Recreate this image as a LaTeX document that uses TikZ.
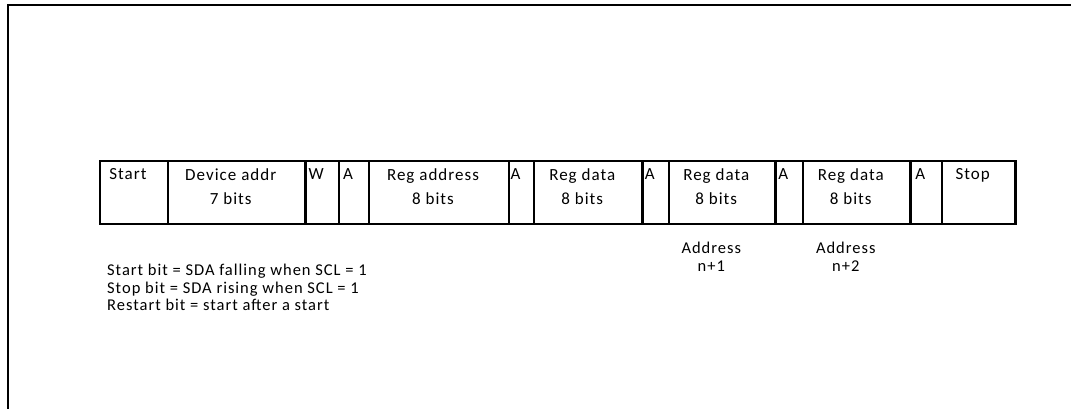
\documentclass[tikz,border=0pt]{standalone}
\usepackage{fontspec}
\setmainfont[LetterSpace=6]{Carlito}
\usetikzlibrary{positioning}
\tikzstyle{frame} = [draw=black, line width=2pt]
\tikzstyle{cell} = [rectangle, draw=black, line width=2.2pt, minimum height=63pt, outer sep=0pt, inner sep=0pt]
\tikzstyle{txt} = [anchor=north, xshift=-6pt, yshift=-7.5pt, inner sep=0pt, align=center, font=\fontsize{17}{24}\selectfont]
\tikzstyle{note} = [inner sep=0pt, font=\fontsize{16.5}{17.5}\selectfont]

\begin{document}
\begin{tikzpicture}[x=1pt, y=-1pt]
\useasboundingbox (0,0) rectangle (1071,409);

% page frame, cut at right and bottom
\draw [frame] (1071,5.5) -- (7.5,5.5) -- (7.5,409);

% frame cells
\node at (100,161) (start) [cell, anchor=north west, minimum width=68pt] {};
\node (devaddr) [cell, right=0pt of start, minimum width=137.5pt] {};
\node (wbit) [cell, right=0pt of devaddr, minimum width=33.5pt] {};
\node (ack1) [cell, right=0pt of wbit, minimum width=30pt] {};
\node (regaddr) [cell, right=0pt of ack1, minimum width=140pt] {};
\node (ack2) [cell, right=0pt of regaddr, minimum width=25pt] {};
\node (data1) [cell, right=0pt of ack2, minimum width=108.5pt] {};
\node (ack3) [cell, right=0pt of data1, minimum width=26.5pt] {};
\node (data2) [cell, right=0pt of ack3, minimum width=106.5pt] {};
\node (ack4) [cell, right=0pt of data2, minimum width=27.5pt] {};
\node (data3) [cell, right=0pt of ack4, minimum width=107.5pt] {};
\node (ack5) [cell, right=0pt of data3, minimum width=31.5pt] {};
\node (stop) [cell, right=0pt of ack5, minimum width=73.5pt] {};

% cell texts
\node at (start.north) (starttxt) [txt] {Start};
\node at (devaddr.north) (devaddrtxt) [txt] {Device addr\\7 bits};
\node at (wbit.north) (wbittxt) [txt] {W};
\node at (ack1.north) (ack1txt) [txt] {A};
\node at (regaddr.north) (regaddrtxt) [txt] {Reg address\\8 bits};
\node at (ack2.north) (ack2txt) [txt] {A};
\node at (data1.north) (data1txt) [txt] {Reg data\\8 bits};
\node at (ack3.north) (ack3txt) [txt] {A};
\node at (data2.north) (data2txt) [txt] {Reg data\\8 bits};
\node at (ack4.north) (ack4txt) [txt] {A};
\node at (data3.north) (data3txt) [txt] {Reg data\\8 bits};
\node at (ack5.north) (ack5txt) [txt] {A};
\node at (stop.north) (stoptxt) [txt] {Stop};

% addresses under the data cells
\node (addr1) [note, align=center, below=18pt of data2, xshift=-11pt] {Address\\n+1};
\node (addr2) [note, align=center, below=18pt of data3, xshift=-11pt] {Address\\n+2};

% notes
\node at (107,264) (notes) [note, anchor=north west, align=left] {Start bit = SDA falling when SCL = 1\\Stop bit = SDA rising when SCL = 1\\Restart bit = start after a start};

\end{tikzpicture}
\end{document}
